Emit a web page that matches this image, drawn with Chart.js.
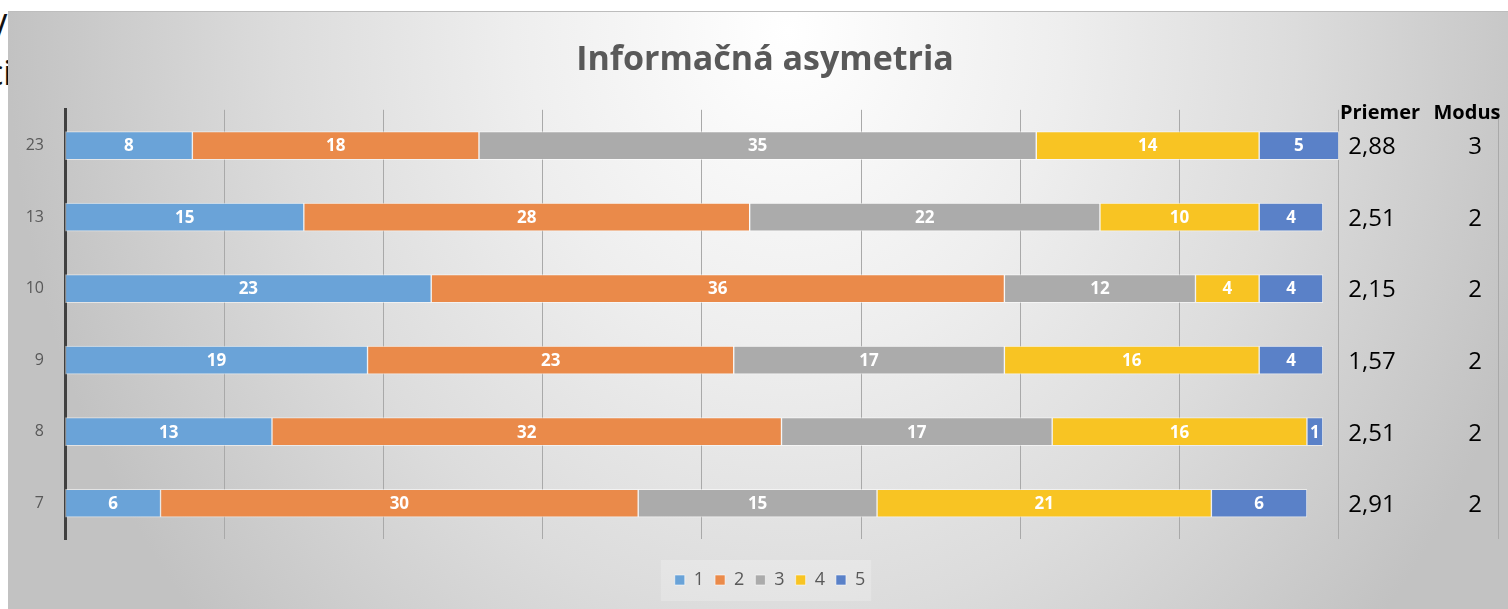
<!DOCTYPE html>
<html>
<head>
<meta charset="utf-8">
<script src="https://cdn.jsdelivr.net/npm/chart.js@4.4.0/dist/chart.umd.min.js"></script>
<style>
  body { margin: 0; width: 1508px; height: 609px; overflow: hidden; background: #fff; position: relative; font-family: "Open Sans", sans-serif; }
  #text { position: absolute; left: -13px; top: 3px; font-size: 34px; line-height: 46px; color: #111; }
  #box {
    position: absolute; left: 8px; top: 11px; width: 1500px; height: 598px;
    border-top: 1px solid #bdbdbd; box-sizing: border-box;
    background: radial-gradient(ellipse 780px 900px at 780px 20px, #ffffff 0%, #eeeeee 35%, #dcdcdc 65%, #c2c2c2 100%);
  }
</style>
</head>
<body>
<div id="text">V<br>ci</div>
<div id="box"><canvas id="graf"></canvas></div>
<script>
const kategorie = ['23', '13', '10', '9', '8', '7'];
const odpoved1 = [8, 15, 23, 19, 13, 6];
const odpoved2 = [18, 28, 36, 23, 32, 30];
const odpoved3 = [35, 22, 12, 17, 17, 15];
const odpoved4 = [14, 10, 4, 16, 16, 21];
const odpoved5 = [5, 4, 4, 4, 1, 6];
const priemer = ['2,88', '2,51', '2,15', '1,57', '2,51', '2,91'];
const modus = ['3', '2', '2', '2', '2', '2'];
const znamky = ['1', '2', '3', '4', '5'];
const farby = ['#6aa3d8', '#ea8a4a', '#ababab', '#f8c423', '#5a81c8'];

// hodnoty v strede segmentov
const hodnotyPlugin = {
  id: 'hodnoty',
  afterDatasetsDraw(chart) {
    const ctx = chart.ctx;
    ctx.save();
    ctx.font = 'bold 17px "Open Sans"';
    ctx.fillStyle = '#ffffff';
    ctx.textAlign = 'center';
    ctx.textBaseline = 'middle';
    chart.data.datasets.forEach((ds, i) => {
      chart.getDatasetMeta(i).data.forEach((bar, j) => {
        const p = bar.getProps(['x', 'y', 'base'], true);
        ctx.fillText(ds.data[j], (p.x + p.base) / 2, p.y + 1);
      });
    });
    ctx.restore();
  }
};

// tabulka Priemer / Modus vpravo
const tabulkaPlugin = {
  id: 'tabulka',
  afterDraw(chart) {
    const ctx = chart.ctx;
    const y = chart.scales.y;
    ctx.save();
    ctx.fillStyle = '#000';
    ctx.textAlign = 'center';
    ctx.textBaseline = 'middle';
    ctx.font = 'bold 20px "Open Sans"';
    ctx.fillText('Priemer', 1372, 101);
    ctx.fillText('Modus', 1459, 101);
    ctx.font = '24px "Open Sans"';
    for (let i = 0; i < kategorie.length; i++) {
      ctx.fillText(priemer[i], 1364, y.getPixelForValue(i) + 2);
      ctx.fillText(modus[i], 1467, y.getPixelForValue(i) + 2);
    }
    ctx.restore();
  }
};

// titulok a legenda nie su v strede platna
const posun = {
  id: 'posun',
  afterLayout(chart) {
    chart.titleBlock.left += 12;
    chart.titleBlock.right += 12;
    chart.legend.left += 17;
    chart.legend.right += 17;
  },
  beforeDraw(chart) {
    // svetlejsi podklad legendy
    const boxy = chart.legend.legendHitBoxes;
    if (!boxy.length) return;
    const prvy = boxy[0], posledny = boxy[boxy.length - 1];
    const stred = prvy.top + prvy.height / 2;
    const ctx = chart.ctx;
    ctx.save();
    ctx.fillStyle = 'rgba(255,255,255,0.22)';
    ctx.fillRect(prvy.left - 14, stred - 20, posledny.left + posledny.width - prvy.left + 20, 41);
    ctx.restore();
  }
};

const odpovede = [odpoved1, odpoved2, odpoved3, odpoved4, odpoved5];
const datasets = [];
for (let i = 0; i < znamky.length; i++) {
  datasets.push({
    label: znamky[i],
    data: odpovede[i],
    backgroundColor: farby[i],
    borderColor: 'rgba(255,255,255,0.55)',
    borderWidth: 1,
    borderSkipped: false,
    barThickness: 28
  });
}

new Chart(document.getElementById('graf'), {
  type: 'bar',
  data: { labels: kategorie, datasets: datasets },
  plugins: [hodnotyPlugin, tabulkaPlugin, posun],
  options: {
    indexAxis: 'y',
    responsive: true,
    maintainAspectRatio: false,
    animation: false,
    layout: { padding: { left: 0, right: 10, top: 0, bottom: 10 } },
    plugins: {
      title: {
        display: true,
        text: 'Informačná asymetria',
        color: '#595959',
        font: { family: 'Open Sans', size: 34, weight: 'bold', lineHeight: 1.2 },
        padding: { top: 28, bottom: 29 }
      },
      legend: {
        position: 'bottom',
        labels: {
          boxWidth: 10,
          boxHeight: 10,
          padding: 11,
          color: '#595959',
          font: { family: 'Open Sans', size: 18 }
        }
      },
      tooltip: { enabled: false }
    },
    scales: {
      x: {
        stacked: true,
        min: 0,
        max: 90,
        ticks: { display: false, stepSize: 10 },
        grid: { color: '#a9a9a9', lineWidth: 1, drawTicks: false },
        border: { display: false },
        afterFit(s) { s.height = 21; }
      },
      y: {
        stacked: true,
        grid: { display: false },
        border: { color: '#404040', width: 3 },
        ticks: { color: '#595959', padding: 13, font: { family: 'Open Sans', size: 16 } },
        afterFit(s) { s.width = 57; }
      }
    }
  }
});
</script>
</body>
</html>
